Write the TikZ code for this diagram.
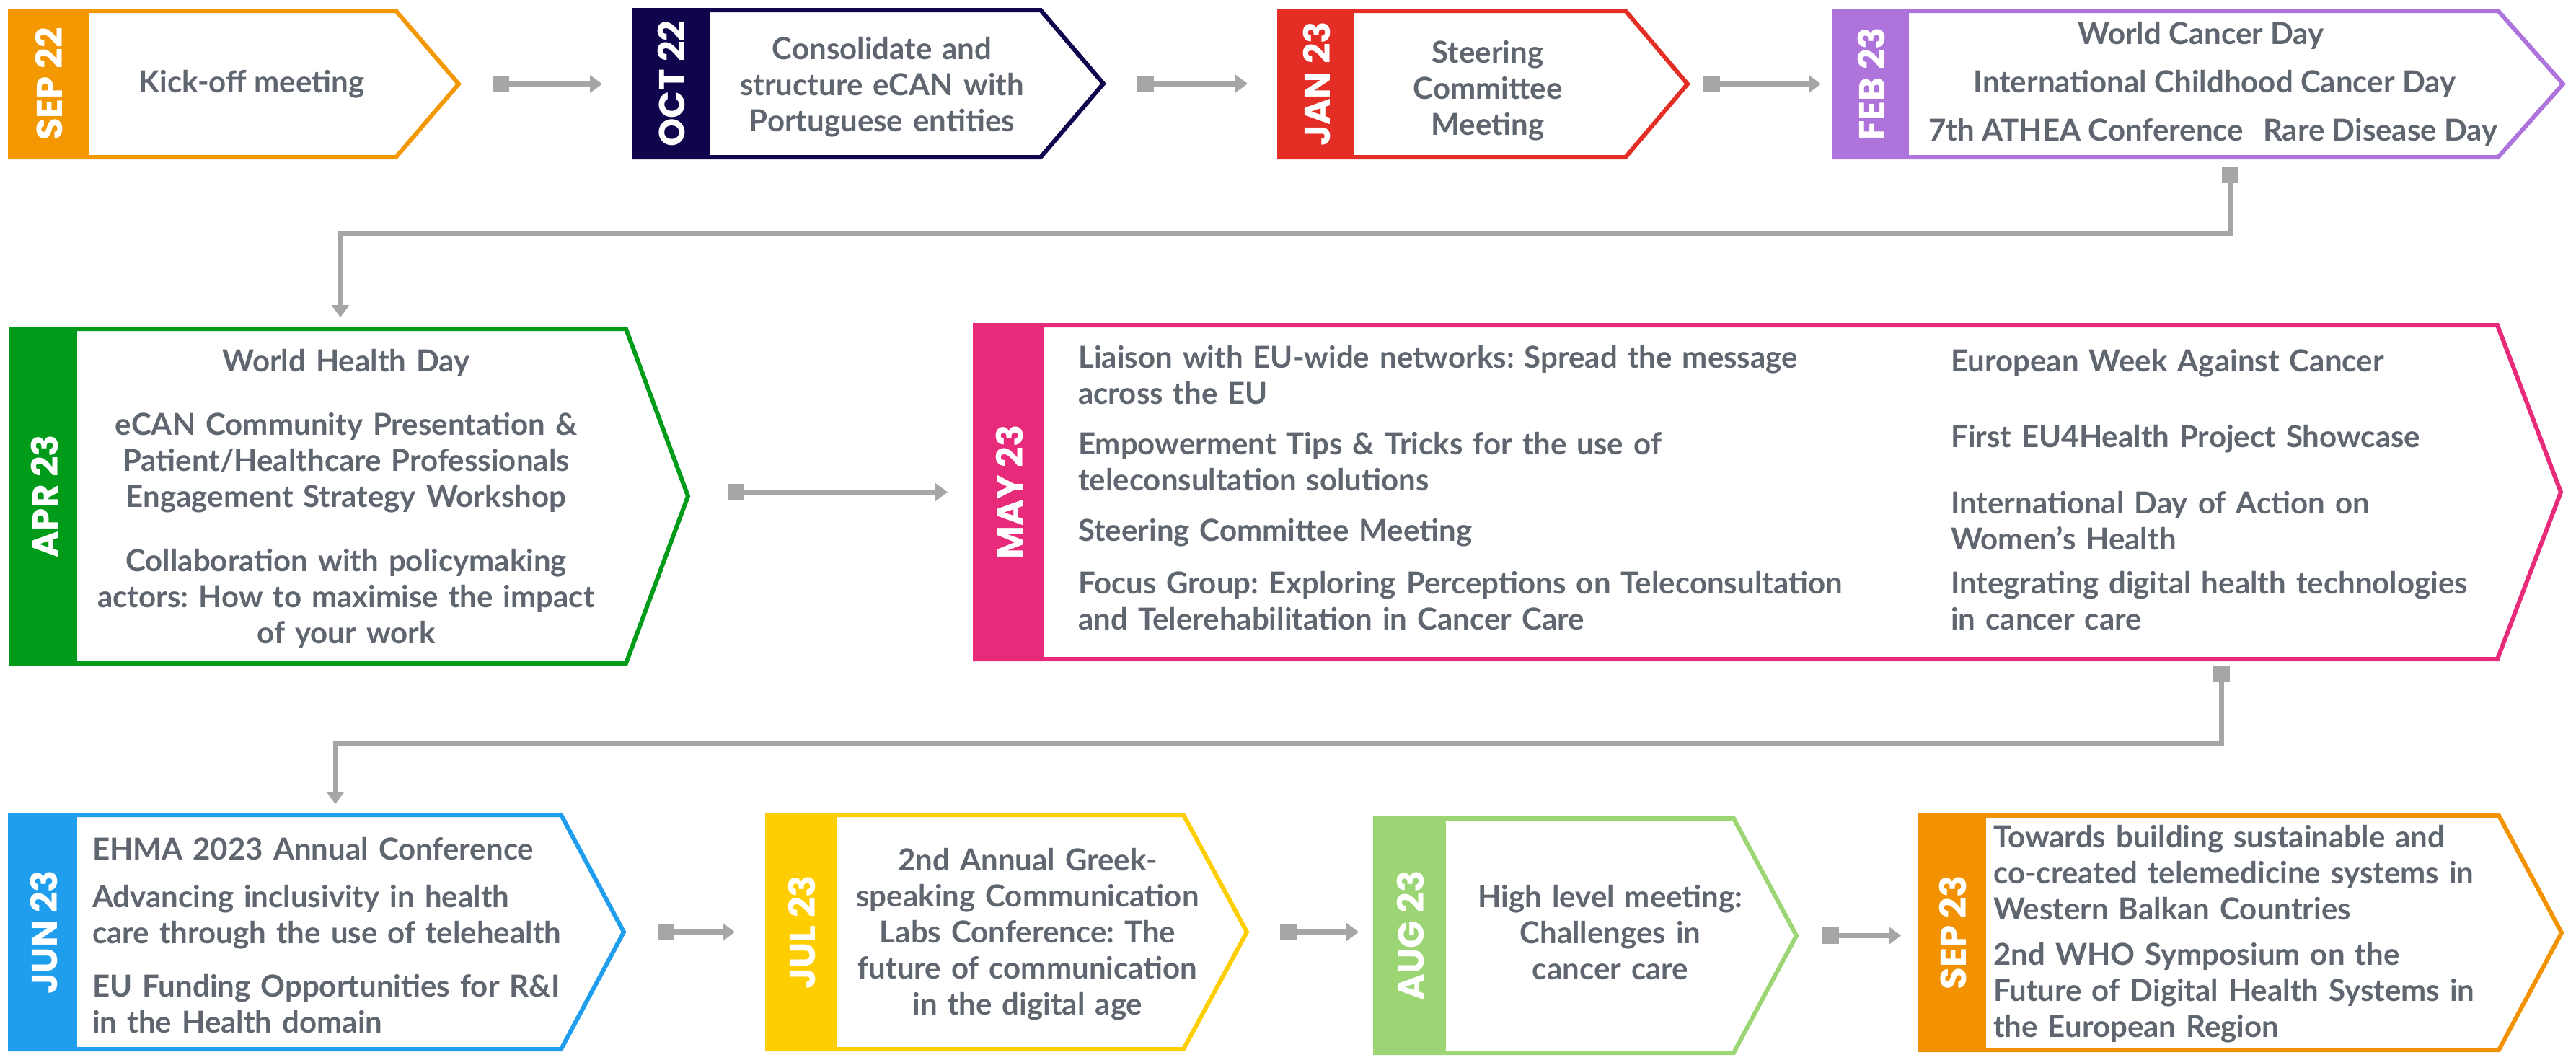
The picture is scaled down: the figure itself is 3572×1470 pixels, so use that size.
\documentclass[tikz,border=0pt]{standalone}
\usepackage{fontspec}
\setmainfont{Lato}
\newfontfamily\datefont{Poppins}
\usetikzlibrary{arrows.meta}
\frenchspacing

\definecolor{cSepA}{RGB}{243,152,0}
\definecolor{cOct}{RGB}{16,4,76}
\definecolor{cJan}{RGB}{228,46,37}
\definecolor{cFeb}{RGB}{175,115,220}
\definecolor{cApr}{RGB}{0,155,25}
\definecolor{cMay}{RGB}{232,42,122}
\definecolor{cJun}{RGB}{30,158,236}
\definecolor{cJul}{RGB}{255,206,0}
\definecolor{cAug}{RGB}{155,213,116}
\definecolor{cSepB}{RGB}{243,146,0}
\definecolor{txtgrey}{RGB}{95,102,112}
\definecolor{conngrey}{RGB}{166,166,166}

\tikzset{
  boxarea/.style={rectangle, inner sep=0pt, outer sep=0pt},
  datelabel/.style={text=white, font=\datefont\bfseries\fontsize{50}{60}\selectfont, inner sep=0pt},
  evtext/.style={text=txtgrey, font=\bfseries\fontsize{42}{50}\selectfont, inner sep=0pt},
  evleft/.style={evtext, anchor=base west, text width=1300pt, align=left},
  evcenter/.style={evtext, anchor=base, text width=1000pt, align=center},
  conn/.style={draw=conngrey, line width=7pt, line cap=butt,
    arrows={Square[length=23pt,width=23pt]-Triangle[length=17pt,width=24pt]}},
}

% #1 name, #2 colour, #3 left, #4 top, #5 tab right, #6 straight right,
% #7 tip, #8 bottom, #9 date label
\newcommand\tlbox[9]{%
  \pgfmathsetmacro\tlmy{(#4+#8)/2}%
  \pgfmathsetmacro\tlmx{(#3+#7)/2}%
  \pgfmathsetmacro\tltx{(#3+#5)/2}%
  \node[boxarea, minimum width={(#7-#3)*1pt}, minimum height={(#8-#4)*1pt}] (#1) at (\tlmx,\tlmy) {};
  \filldraw[fill=white, draw=#2, line width=6pt, line join=miter]
    (#3,#4+3) -- (#6,#4+3) -- (#7-3,\tlmy) -- (#6,#8-3) -- (#3,#8-3) -- cycle;
  \fill[#2] (#3,#4) rectangle (#5,#8);
  \node[datelabel, rotate=90] (#1-date) at (\tltx,\tlmy) {#9};
}

\begin{document}
\begin{tikzpicture}[x=1pt, y=-1pt]
\useasboundingbox (0,0) rectangle (3572,1470);
\fill[white] (0,0) rectangle (3572,1470);

% ---- first row
\tlbox{sep22}{cSepA}{14}{12}{123}{549}{639}{221}{SEP 22}
\tlbox{oct22}{cOct}{879}{11}{984}{1443}{1533}{221}{OCT 22}
\tlbox{jan23}{cJan}{1774}{12}{1878}{2254}{2343}{221}{JAN 23}
\tlbox{feb23}{cFeb}{2543}{12}{2647}{3464}{3557}{221}{FEB 23}

\node[evtext, anchor=base] (t-sep22) at (349,128) {Kick-off meeting};
\node[evcenter] (t-oct22) at (1223,82) {Consolidate and\\structure eCAN with\\Portuguese entities};
\node[evcenter] (t-jan23) at (2063,87) {Steering\\Committee\\Meeting};
\node[evtext, anchor=base] (t-feb23a) at (3052,61) {World Cancer Day};
\node[evtext, anchor=base] (t-feb23b) at (3071,128) {International Childhood Cancer Day};
\node[evtext, anchor=base] (t-feb23c) at (3069,195) {7th ATHEA Conference\hspace{27pt}Rare Disease Day};

% ---- second row
\tlbox{apr23}{cApr}{16}{453}{107}{868}{957}{923}{APR 23}
\tlbox{may23}{cMay}{1352}{448}{1447}{3463}{3554}{917}{MAY 23}

\node[evcenter] (t-apr23) at (480,515) {World Health Day\\[38pt]eCAN Community Presentation \&\\Patient/Healthcare Professionals\\Engagement Strategy Workshop\\[39pt]Collaboration with policymaking\\actors: How to maximise the impact\\of your work};

\node[evleft] (t-may23a) at (1495,510) {Liaison with EU-wide networks: Spread the message\\across the EU};
\node[evleft] (t-may23b) at (1495,630) {Empowerment Tips \& Tricks for the use of\\teleconsultation solutions};
\node[evleft] (t-may23c) at (1495,750) {Steering Committee Meeting};
\node[evleft] (t-may23d) at (1495,823) {Focus Group: Exploring Perceptions on Teleconsultation\\and Telerehabilitation in Cancer Care};
\node[evleft] (t-may23e) at (2705,515) {European Week Against Cancer};
\node[evleft] (t-may23f) at (2705,620) {First EU4Health Project Showcase};
\node[evleft] (t-may23g) at (2705,712) {International Day of Action on\\Women's Health};
\node[evleft] (t-may23h) at (2705,823) {Integrating digital health technologies\\in cancer care};

% ---- third row
\tlbox{jun23}{cJun}{14}{1127}{107}{778}{868}{1458}{JUN 23}
\tlbox{jul23}{cJul}{1064}{1127}{1160}{1641}{1732}{1458}{JUL 23}
\tlbox{aug23}{cAug}{1907}{1132}{2005}{2404}{2494}{1463}{AUG 23}
\tlbox{sep23}{cSepB}{2662}{1128}{2754}{3465}{3555}{1459}{SEP 23}

\node[evleft] (t-jun23a) at (128,1192) {EHMA 2023 Annual Conference};
\node[evleft] (t-jun23b) at (128,1258) {Advancing inclusivity in health\\care through the use of telehealth};
\node[evleft] (t-jun23c) at (128,1382) {EU Funding Opportunities for R\&I\\in the Health domain};
\node[evcenter] (t-jul23) at (1425,1207) {2nd Annual Greek-\\speaking Communication\\Labs Conference: The\\future of communication\\in the digital age};
\node[evcenter] (t-aug23) at (2233,1258) {High level meeting:\\Challenges in\\cancer care};
\node[evleft] (t-sep23a) at (2764,1175) {Towards building sustainable and\\co-created telemedicine systems in\\Western Balkan Countries};
\node[evleft] (t-sep23b) at (2764,1338) {2nd WHO Symposium on the\\Future of Digital Health Systems in\\the European Region};

% ---- connector ports
\path ([xshift=44pt]sep22.east) coordinate (sep22-out);
\path ([xshift=-44pt]oct22.west) coordinate (oct22-in);
\path ([xshift=44pt]oct22.east) coordinate (oct22-out);
\path ([xshift=-44pt]jan23.west) coordinate (jan23-in);
\path ([xshift=19pt]jan23.east) coordinate (jan23-out);
\path ([xshift=-18pt]feb23.west) coordinate (feb23-in);
\path (feb23.south) ++(42,10) coordinate (feb23-out);
\path (apr23.north) ++(-14.5,-13) coordinate (apr23-in);
\path ([xshift=52pt]apr23.east) coordinate (apr23-out);
\path ([xshift=-38pt]may23.west) coordinate (may23-in);
\path (may23.south) ++(627,6) coordinate (may23-out);
\path (jun23.north) ++(24,-12) coordinate (jun23-in);
\path ([xshift=44pt]jun23.east) coordinate (jun23-out);
\path ([xshift=-45pt]jul23.west) coordinate (jul23-in);
\path ([xshift=43pt]jul23.east) coordinate (jul23-out);
\path ([xshift=-23pt]aug23.west) coordinate (aug23-in);
\path ([xshift=33pt]aug23.east) coordinate (aug23-out);
\path ([xshift=-26pt]sep23.west) coordinate (sep23-in);

% ---- connectors
\draw[conn] (sep22-out) -- (sep22-out -| oct22-in);
\draw[conn] (oct22-out) -- (oct22-out -| jan23-in);
\draw[conn] (jan23-out) -- (jan23-out -| feb23-in);
\draw[conn] (feb23-out) -- ++(0,92) -| (apr23-in);
\draw[conn] (apr23-out |- may23-in) -- (may23-in);
\draw[conn] (may23-out) -- ++(0,107) -| (jun23-in);
\draw[conn] (jun23-out) -- (jun23-out -| jul23-in);
\draw[conn] (jul23-out) -- (jul23-out -| aug23-in);
\draw[conn] (aug23-out) -- (aug23-out -| sep23-in);
\end{tikzpicture}
\end{document}
